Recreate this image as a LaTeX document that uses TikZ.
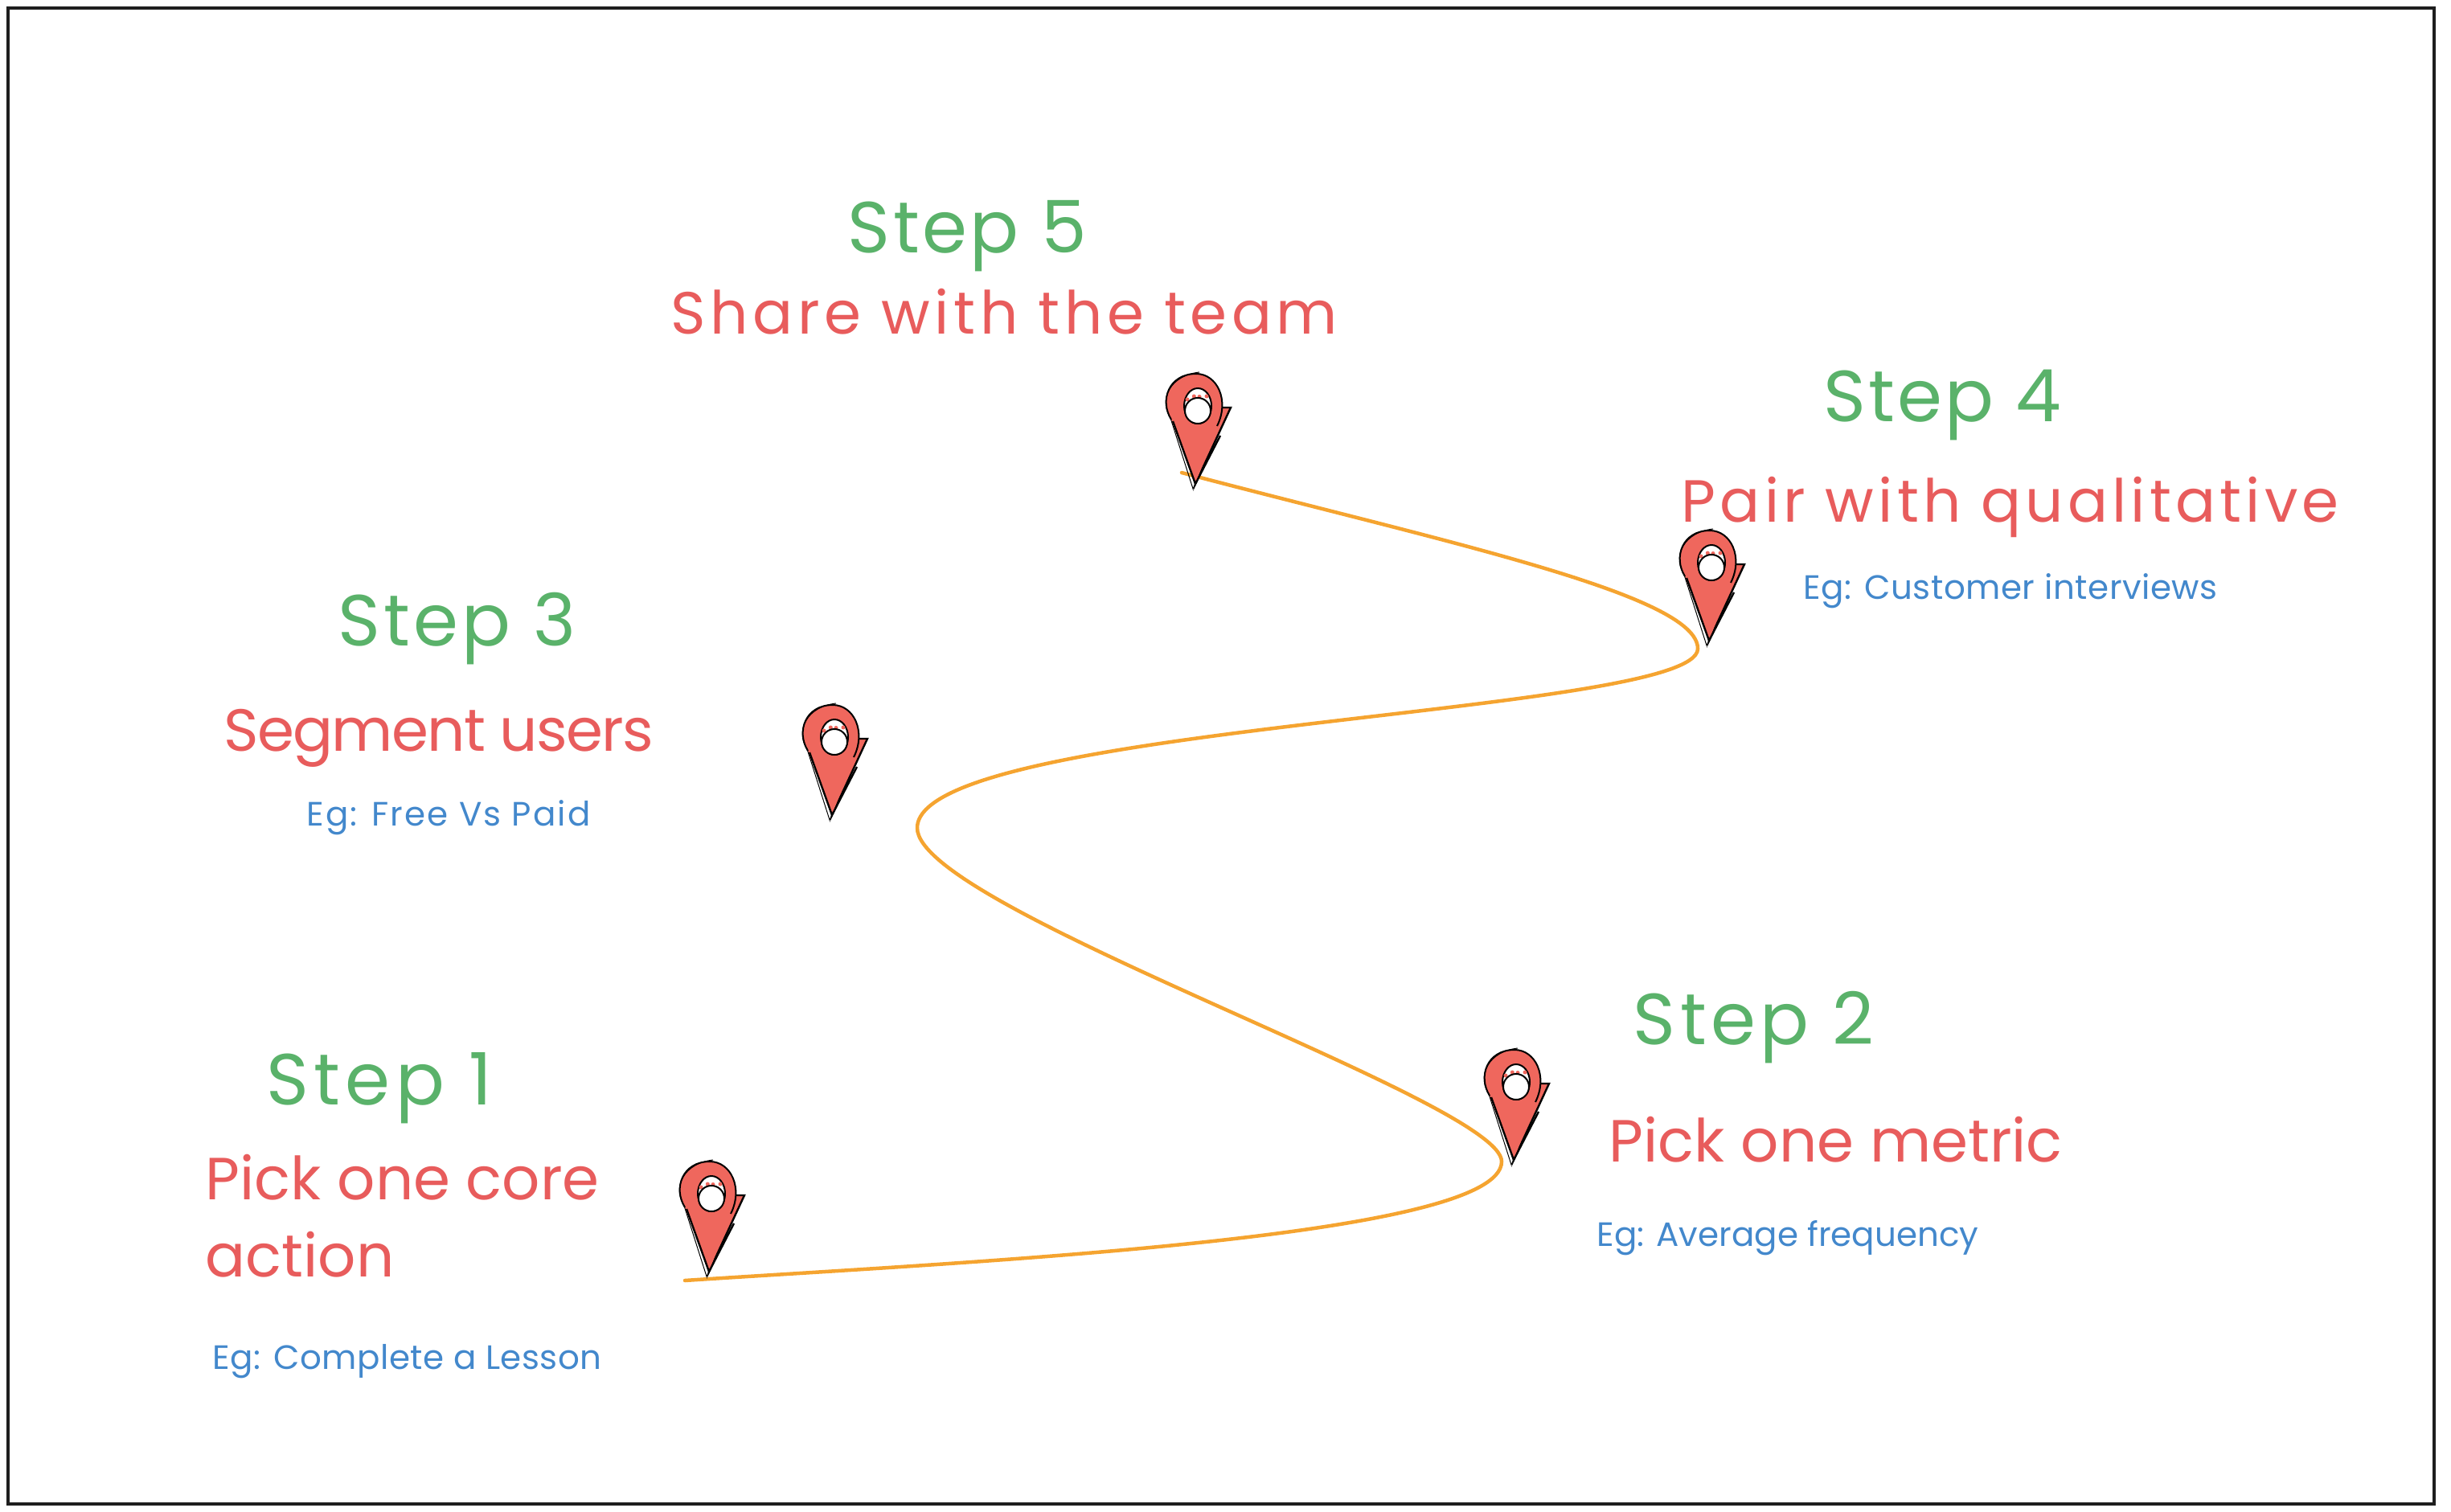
\documentclass[tikz,border=0pt]{standalone}
\usepackage{fontspec}
\setmainfont{Poppins}
\newlength{\du}
\setlength{\du}{0.25pt}
\newcommand{\spaced}[2]{{\addfontfeatures{LetterSpace=#1}#2}}
\definecolor{framecolor}{HTML}{1E1E1E}
\definecolor{routecolor}{HTML}{F5A430}
\definecolor{pincolor}{HTML}{EF675D}
\definecolor{stepcolor}{HTML}{5AB26A}
\definecolor{actioncolor}{HTML}{E85C5C}
\definecolor{examplecolor}{HTML}{4388CC}
\tikzset{
  steptext/.style={anchor=base west,inner sep=0pt,text=stepcolor,font=\fontsize{22.5}{24}\selectfont},
  actiontext/.style={anchor=base west,inner sep=0pt,text=actioncolor,align=left,font=\fontsize{18.5}{24}\selectfont},
  exampletext/.style={anchor=base west,inner sep=0pt,text=examplecolor,font=\fontsize{10.5}{12}\selectfont},
  pinmark/.pic={
    \fill[pincolor,draw=black,line width=0.6pt] (20\du,101\du)--(47\du,101\du)--(3\du,6\du)--cycle;
    \fill[pincolor] (-27\du,86\du) .. controls (-42\du,110\du) and (-30\du,143\du) .. (4\du,143\du) .. controls (30\du,143\du) and (46\du,110\du) .. (30\du,78\du)--(3\du,6\du)--cycle;
    \draw[line width=0.5pt] (-27\du,86\du) .. controls (-42\du,110\du) and (-30\du,143\du) .. (4\du,143\du) .. controls (30\du,143\du) and (46\du,110\du) .. (30\du,78\du);
    \draw[line width=0.25pt] (-29\du,90\du) .. controls (-42\du,112\du) and (-28\du,141\du) .. (8\du,145\du);
    \draw[line width=0.25pt] (-28\du,88\du)--(0\du,0\du)--(3\du,6\du);
    \draw[line width=0.6pt] (-25\du,84\du)--(3\du,6\du)--(34\du,66\du);
    \fill[white,draw=black,line width=0.5pt] (6\du,103\du) ellipse [x radius=17\du,y radius=22\du];
    \foreach \dotx/\doty in {-7/111,1.3/115,8/114.5,17/115}
      \fill[pincolor] (\dotx\du,\doty\du) circle [radius=2.5\du];
    \fill[white,draw=black,line width=0.5pt] (6\du,97\du) circle [radius=16\du];
  }
}

\begin{document}
\begin{tikzpicture}
\pgftransformyscale{-1.000000}
\useasboundingbox (0\du,0\du) rectangle (3049\du,1881\du);
\node[draw=framecolor,line width=4\du,inner sep=0pt,outer sep=0pt,minimum width=3018\du,minimum height=1861\du,anchor=north west] (frame) at (10\du,10\du) {};
% route
\coordinate (routestart) at (852\du,1593\du);
\coordinate (turnone) at (1868\du,1445\du);
\coordinate (turntwo) at (1141\du,1030\du);
\coordinate (turnthree) at (2112\du,807\du);
\coordinate (routeend) at (1470\du,588\du);
\draw[routecolor,line width=4.5\du,line cap=round] (routestart) .. controls (1200\du,1570\du) and (1868\du,1540\du) .. (turnone) .. controls (1868\du,1370\du) and (1141\du,1130\du) .. (turntwo) .. controls (1141\du,900\du) and (2112\du,890\du) .. (turnthree) .. controls (2112\du,740\du) and (1800\du,675\du) .. (routeend);
% pins
\pic (pinone) at (879\du,1588\du) {pinmark};
\pic (pintwo) at (1880\du,1449\du) {pinmark};
\pic (pinthree) at (1032\du,1020\du) {pinmark};
\pic (pinfour) at (2123\du,803\du) {pinmark};
\pic (pinfive) at (1484\du,608\du) {pinmark};
% step 1
\node[steptext] (stepone) at (331\du,1374\du) {\spaced{7}{Step 1}};
\node[actiontext] (actionone) at (255\du,1588\du) {Pick one core\\action};
\node[exampletext] (exampleone) at (264\du,1703\du) {\spaced{1.2}{Eg: Complete a Lesson}};
% step 2
\node[steptext] (steptwo) at (2031\du,1299\du) {\spaced{6}{Step 2}};
\node[actiontext] (actiontwo) at (2001\du,1445\du) {Pick one metric};
\node[exampletext] (exampletwo) at (1986\du,1550\du) {Eg: Average frequency};
% step 3
\node[steptext] (stepthree) at (420\du,803\du) {\spaced{4.7}{Step 3}};
\node[actiontext] (actionthree) at (278\du,934\du) {\spaced{-2.4}{Segment users}};
\node[exampletext] (examplethree) at (381\du,1027\du) {\spaced{5}{Eg: Free Vs Paid}};
% step 4
\node[steptext] (stepfour) at (2268\du,525\du) {\spaced{3.5}{Step 4}};
\node[actiontext] (actionfour) at (2091\du,650\du) {\spaced{7}{Pair with qualitative}};
\node[exampletext] (examplefour) at (2243\du,745\du) {\spaced{1.3}{Eg: Customer interviews}};
% step 5
\node[steptext] (stepfive) at (1054\du,315\du) {\spaced{3.9}{Step 5}};
\node[actiontext] (actionfive) at (834\du,416\du) {\spaced{7.5}{Share with the team}};
\end{tikzpicture}
\end{document}
